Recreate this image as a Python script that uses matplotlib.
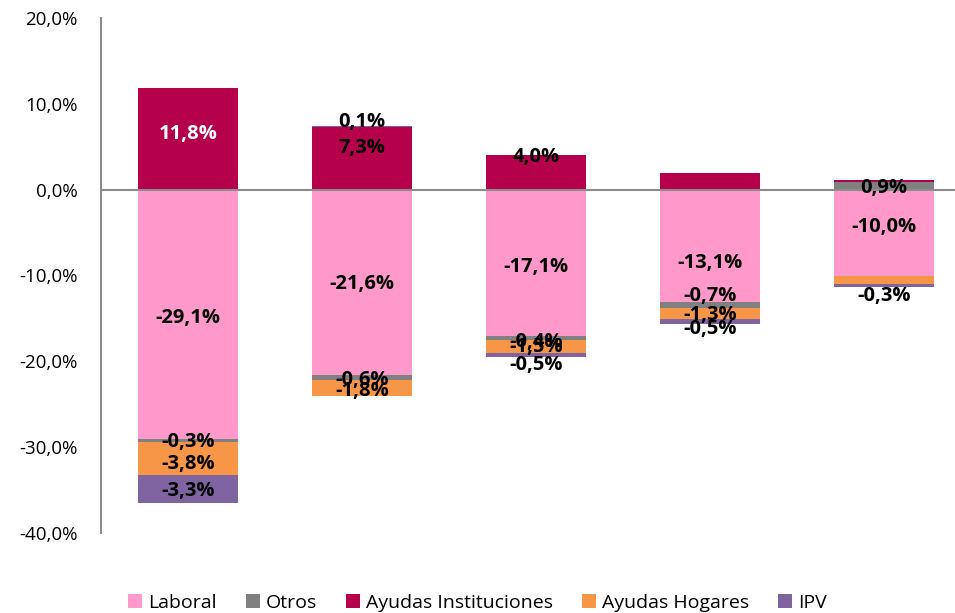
import matplotlib.pyplot as plt
import numpy as np

plt.rcParams['font.family'] = ['Open Sans', 'DejaVu Sans']

series = ["Laboral", "Otros", "Ayudas Instituciones", "Ayudas Hogares", "IPV"]
colors = ["#FF99CC", "#808080", "#B5004B", "#F79646", "#8064A2"]

# one value per bar (5 bars, no category labels shown)
laboral = [-29.1, -21.6, -17.1, -13.1, -10.0]
otros = [-0.3, -0.6, -0.4, -0.7, 0.9]
ayudas_inst = [11.8, 7.3, 4.0, 1.9, 0.2]
ayudas_hog = [-3.8, -1.8, -1.5, -1.3, -1.0]
ipv = [-3.3, 0.1, -0.5, -0.5, -0.3]

values = [laboral, otros, ayudas_inst, ayudas_hog, ipv]

# which labels are shown (rows = series, cols = bars) and vertical nudges in pixels
show = [
    [True, True, True, True, True],
    [True, True, True, True, True],
    [True, True, True, False, False],
    [True, True, True, True, False],
    [True, True, True, True, True],
]
nudge = [
    [-3, -2, -4, -17, 6],
    [-1, -2, -4, 9, -2],
    [5, 10, 15, 0, 0],
    [-6, -3, -1, -1, 0],
    [-2, 5, -10, -8, -11],
]

fig = plt.figure(figsize=(9.55, 6.13), dpi=100)
ax = fig.add_axes([101 / 955, 1 - 533 / 613, 854 / 955, 515 / 613])

x = np.arange(len(laboral))
width = 0.575
pos_base = np.zeros(len(x))
neg_base = np.zeros(len(x))

for s, (name, vals, col) in enumerate(zip(series, values, colors)):
    vals = np.array(vals)
    base = np.where(vals >= 0, pos_base, neg_base)
    ax.bar(x, vals, width, bottom=base, color=col, label=name, zorder=2)
    for i, v in enumerate(vals):
        if not show[s][i]:
            continue
        c = base[i] + v / 2
        txt = f"{v:.1f}%".replace(".", ",")
        tcol = "white" if (s == 2 and i == 0) else "black"
        ax.annotate(txt, (x[i], c), xytext=(0, nudge[s][i] * 0.72),
                    textcoords="offset points", ha="center", va="center",
                    fontsize=14.5, fontweight="bold", color=tcol, zorder=4)
    pos_base = pos_base + np.where(vals >= 0, vals, 0)
    neg_base = neg_base + np.where(vals < 0, vals, 0)

ax.axhline(0, color="#8C8C8C", lw=1.5, zorder=3)
ax.set_ylim(-40, 20)
ax.set_xlim(-0.5, 4.41)
ax.set_yticks(np.arange(-40, 21, 10))
ax.set_yticklabels([f"{t:.1f}%".replace(".", ",") for t in np.arange(-40, 21, 10)],
                   fontsize=13.5)
ax.tick_params(axis="y", length=0, pad=17)
ax.set_xticks([])
for sp in ["top", "right", "bottom"]:
    ax.spines[sp].set_visible(False)
ax.spines["left"].set_color("#8C8C8C")
ax.spines["left"].set_linewidth(1.5)

fig.legend(loc="lower center", bbox_to_anchor=(0.5, -0.027), ncol=5, frameon=False,
           fontsize=14, handlelength=0.72, handleheight=0.72, handletextpad=0.3,
           columnspacing=1.5)

fig.savefig("out.png", dpi=100)
